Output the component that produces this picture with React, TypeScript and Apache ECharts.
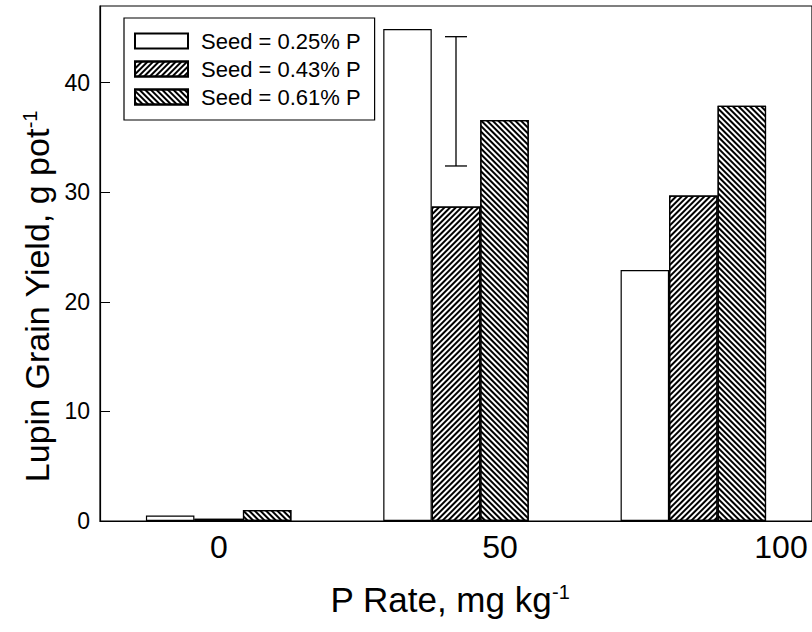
import React, { useEffect, useRef } from "react";
import * as echarts from "echarts";

// P rate categories (used for bar placement)
const categories = ["0", "50", "100"];
// Tick labels of the P rate axis
const xTickValues = [0, 50, 100];
// Lupin grain yield, g pot-1
const seed025 = [0.5, 44.9, 22.9];
const seed043 = [0.2, 28.7, 29.7];
const seed061 = [1.0, 36.6, 37.9];
const seriesNames = ["Seed = 0.25% P", "Seed = 0.43% P", "Seed = 0.61% P"];
// Error bar: [category index, low, high]
const errorBar = [[1, 32.4, 44.2]];

const FONT = "Liberation Sans, Arial, sans-serif";

export default function App() {
  const ref = useRef<HTMLDivElement>(null);
  useEffect(() => {
    if (!ref.current) return;
    const chart = echarts.init(ref.current, undefined, { renderer: "svg" });
    const hatch = (rot: number) => ({
      symbol: "rect",
      symbolSize: 1,
      color: "#000",
      backgroundColor: "#fff",
      dashArrayX: [1, 0],
      dashArrayY: [1.2, 1.8],
      rotation: rot,
    });
    const supStyle = { fontFamily: FONT, fontSize: 20, lineHeight: 20, verticalAlign: "top", color: "#000" };
    const option: any = {
      animation: false,
      backgroundColor: "#fff",
      textStyle: { fontFamily: FONT, color: "#000" },
      grid: [
        { left: 100, top: 6, width: 724, height: 515, show: true, borderColor: "#000", borderWidth: 1.2, backgroundColor: "transparent" },
        { left: 219, top: 6, width: 562, height: 515, show: false },
      ],
      legend: {
        orient: "vertical",
        left: 124,
        top: 18,
        padding: [12, 14, 12, 10],
        itemWidth: 53,
        itemHeight: 15,
        itemGap: 6,
        borderColor: "#000",
        borderWidth: 1.2,
        backgroundColor: "#fff",
        icon: "rect",
        data: seriesNames,
        textStyle: { fontFamily: FONT, fontSize: 22, color: "#000", padding: [0, 0, 0, 8] },
      },
      xAxis: [
        {
          type: "category",
          gridIndex: 0,
          data: categories,
          boundaryGap: true,
          axisLine: { lineStyle: { color: "#000", width: 1.2 } },
          axisTick: { show: false },
          axisLabel: { show: false },
          name: "P Rate, mg kg{sup|-1}",
          nameLocation: "middle",
          nameGap: 61,
          nameTextStyle: {
            fontFamily: FONT,
            fontSize: 35,
            color: "#000",
            padding: [0, 12, 0, 0],
            rich: { sup: supStyle },
          },
        },
        {
          type: "value",
          gridIndex: 1,
          min: xTickValues[0],
          max: xTickValues[xTickValues.length - 1],
          interval: xTickValues[1] - xTickValues[0],
          axisLine: { show: false },
          axisTick: { show: false },
          splitLine: { show: false },
          axisLabel: { fontFamily: FONT, fontSize: 32, color: "#000", margin: 10 },
        },
      ],
      yAxis: [
        {
          type: "value",
          gridIndex: 0,
          min: 0,
          max: 47,
          interval: 10,
          axisLine: { show: true, lineStyle: { color: "#000", width: 1.2 } },
          axisTick: { show: true, inside: true, length: 10, lineStyle: { color: "#000" } },
          splitLine: { show: false },
          axisLabel: { fontFamily: FONT, fontSize: 23, color: "#000", margin: 10, showMaxLabel: false },
          name: "Lupin Grain Yield, g pot{sup|-1}",
          nameLocation: "middle",
          nameGap: 40,
          nameTextStyle: {
            fontFamily: FONT,
            fontSize: 34,
            color: "#000",
            padding: [0, 66, 0, 0],
            rich: { sup: supStyle },
          },
        },
        { type: "value", gridIndex: 1, show: false, min: 0, max: 47 },
      ],
      series: [
        {
          name: seriesNames[0],
          type: "bar",
          xAxisIndex: 0,
          yAxisIndex: 0,
          data: seed025,
          barWidth: 48.5,
          barGap: "0%",
          itemStyle: { color: "#fff", borderColor: "#000", borderWidth: 1.2 },
        },
        {
          name: seriesNames[1],
          type: "bar",
          xAxisIndex: 0,
          yAxisIndex: 0,
          data: seed043,
          barWidth: 48.5,
          barGap: "0%",
          itemStyle: { color: "#fff", borderColor: "#000", borderWidth: 1.2, decal: hatch(-Math.PI / 4) },
        },
        {
          name: seriesNames[2],
          type: "bar",
          xAxisIndex: 0,
          yAxisIndex: 0,
          data: seed061,
          barWidth: 48.5,
          barGap: "0%",
          itemStyle: { color: "#fff", borderColor: "#000", borderWidth: 1.2, decal: hatch(Math.PI / 4) },
        },
        {
          type: "custom",
          xAxisIndex: 0,
          yAxisIndex: 0,
          data: errorBar,
          silent: true,
          renderItem: (params: any, api: any) => {
            const lo = api.coord([api.value(0), api.value(1)]);
            const hi = api.coord([api.value(0), api.value(2)]);
            const hw = 11;
            const style = { stroke: "#000", lineWidth: 1.3, fill: "none" };
            return {
              type: "group",
              children: [
                { type: "line", shape: { x1: lo[0], y1: lo[1], x2: hi[0], y2: hi[1] }, style },
                { type: "line", shape: { x1: hi[0] - hw, y1: hi[1], x2: hi[0] + hw, y2: hi[1] }, style },
                { type: "line", shape: { x1: lo[0] - hw, y1: lo[1], x2: lo[0] + hw, y2: lo[1] }, style },
              ],
            };
          },
        },
      ],
    };
    chart.setOption(option);
    return () => chart.dispose();
  }, []);
  return (
    <div
      ref={ref}
      style={{ position: "absolute", left: 0, top: 0, width: 812, height: 632, background: "#fff" }}
    />
  );
}
